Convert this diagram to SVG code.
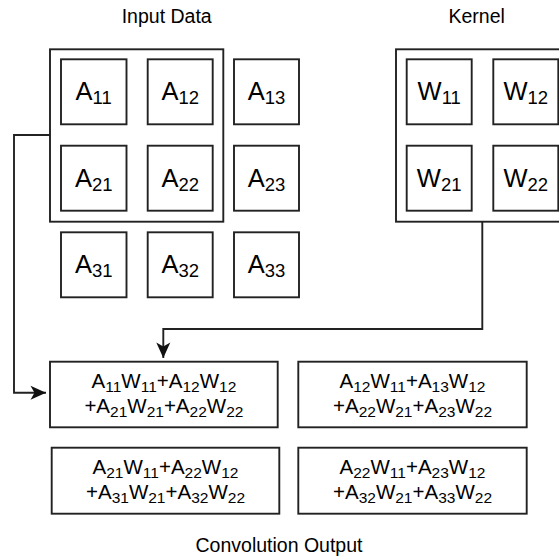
<svg xmlns="http://www.w3.org/2000/svg" width="559" height="556" viewBox="0 0 559 556">
<style>
text{font-family:"Liberation Sans",Arial,Helvetica,sans-serif;fill:#000;text-anchor:middle}
.t{font-size:19.5px}
.c rect{fill:#fff;stroke:#222;stroke-width:1.9}
.g{fill:none;stroke:#222;stroke-width:1.9}
.l{font-size:25.5px}
.l .s{font-size:18.5px}
.f{font-size:20.5px}
.f .s{font-size:15.5px}
.e{fill:none;stroke:#222;stroke-width:1.9}
</style>
<defs>
<marker id="arr" markerWidth="18" markerHeight="16" refX="16" refY="8" orient="auto" markerUnits="userSpaceOnUse">
<path d="M0.5,1 L16,8 L0.5,15 L4.5,8 Z" fill="#111"/>
</marker>
</defs>
<rect width="559" height="556" fill="#fff"/>
<text class="t" x="166.7" y="22.7">Input Data</text>
<text class="t" x="476.7" y="22.7">Kernel</text>
<text class="t" x="279" y="551.5">Convolution Output</text>

<g id="input-window"><rect class="g" x="50" y="49.3" width="173.3" height="172.4"/></g>
<g id="kernel-window"><rect class="g" x="396" y="49.3" width="175" height="172.4"/></g>

<g id="A11" class="c"><rect x="61" y="59.3" width="65.5" height="65"/><text class="l" x="93.7" y="100.3">A<tspan class="s" dy="4">11</tspan></text></g>
<g id="A12" class="c"><rect x="147.7" y="59.3" width="65" height="65"/><text class="l" x="180.2" y="100.3">A<tspan class="s" dy="4">12</tspan></text></g>
<g id="A13" class="c"><rect x="234" y="59.3" width="65" height="65"/><text class="l" x="266.5" y="100.3">A<tspan class="s" dy="4">13</tspan></text></g>
<g id="A21" class="c"><rect x="61" y="145.7" width="65.5" height="65"/><text class="l" x="93.7" y="186.7">A<tspan class="s" dy="4">21</tspan></text></g>
<g id="A22" class="c"><rect x="147.7" y="145.7" width="65" height="65"/><text class="l" x="180.2" y="186.7">A<tspan class="s" dy="4">22</tspan></text></g>
<g id="A23" class="c"><rect x="234" y="145.7" width="65" height="65"/><text class="l" x="266.5" y="186.7">A<tspan class="s" dy="4">23</tspan></text></g>
<g id="A31" class="c"><rect x="61" y="232.3" width="65.5" height="65"/><text class="l" x="93.7" y="273.3">A<tspan class="s" dy="4">31</tspan></text></g>
<g id="A32" class="c"><rect x="147.7" y="232.3" width="65" height="65"/><text class="l" x="180.2" y="273.3">A<tspan class="s" dy="4">32</tspan></text></g>
<g id="A33" class="c"><rect x="234" y="232.3" width="65" height="65"/><text class="l" x="266.5" y="273.3">A<tspan class="s" dy="4">33</tspan></text></g>

<g id="W11" class="c"><rect x="406.7" y="59.3" width="65" height="65"/><text class="l" x="439.2" y="100.3">W<tspan class="s" dy="4">11</tspan></text></g>
<g id="W12" class="c"><rect x="493.3" y="59.3" width="65" height="65"/><text class="l" x="525.8" y="100.3">W<tspan class="s" dy="4">12</tspan></text></g>
<g id="W21" class="c"><rect x="406.7" y="145.7" width="65" height="65"/><text class="l" x="439.2" y="186.7">W<tspan class="s" dy="4">21</tspan></text></g>
<g id="W22" class="c"><rect x="493.3" y="145.7" width="65" height="65"/><text class="l" x="525.8" y="186.7">W<tspan class="s" dy="4">22</tspan></text></g>

<g id="O11" class="c"><rect x="50" y="361.7" width="227.7" height="65.6"/>
<text class="f" x="163.9" y="388">A<tspan class="s" dy="3.5">11</tspan><tspan dy="-3.5">W</tspan><tspan class="s" dy="3.5">11</tspan><tspan dy="-3.5">+A</tspan><tspan class="s" dy="3.5">12</tspan><tspan dy="-3.5">W</tspan><tspan class="s" dy="3.5">12</tspan></text>
<text class="f" x="163.9" y="413">+A<tspan class="s" dy="3.5">21</tspan><tspan dy="-3.5">W</tspan><tspan class="s" dy="3.5">21</tspan><tspan dy="-3.5">+A</tspan><tspan class="s" dy="3.5">22</tspan><tspan dy="-3.5">W</tspan><tspan class="s" dy="3.5">22</tspan></text></g>
<g id="O12" class="c"><rect x="298.3" y="361.7" width="228.4" height="65.6"/>
<text class="f" x="412.5" y="388">A<tspan class="s" dy="3.5">12</tspan><tspan dy="-3.5">W</tspan><tspan class="s" dy="3.5">11</tspan><tspan dy="-3.5">+A</tspan><tspan class="s" dy="3.5">13</tspan><tspan dy="-3.5">W</tspan><tspan class="s" dy="3.5">12</tspan></text>
<text class="f" x="412.5" y="413">+A<tspan class="s" dy="3.5">22</tspan><tspan dy="-3.5">W</tspan><tspan class="s" dy="3.5">21</tspan><tspan dy="-3.5">+A</tspan><tspan class="s" dy="3.5">23</tspan><tspan dy="-3.5">W</tspan><tspan class="s" dy="3.5">22</tspan></text></g>
<g id="O21" class="c"><rect x="51.7" y="447.7" width="227.6" height="66"/>
<text class="f" x="165.5" y="474.3">A<tspan class="s" dy="3.5">21</tspan><tspan dy="-3.5">W</tspan><tspan class="s" dy="3.5">11</tspan><tspan dy="-3.5">+A</tspan><tspan class="s" dy="3.5">22</tspan><tspan dy="-3.5">W</tspan><tspan class="s" dy="3.5">12</tspan></text>
<text class="f" x="165.5" y="499.3">+A<tspan class="s" dy="3.5">31</tspan><tspan dy="-3.5">W</tspan><tspan class="s" dy="3.5">21</tspan><tspan dy="-3.5">+A</tspan><tspan class="s" dy="3.5">32</tspan><tspan dy="-3.5">W</tspan><tspan class="s" dy="3.5">22</tspan></text></g>
<g id="O22" class="c"><rect x="298.3" y="447.7" width="228.4" height="66"/>
<text class="f" x="412.5" y="474.3">A<tspan class="s" dy="3.5">22</tspan><tspan dy="-3.5">W</tspan><tspan class="s" dy="3.5">11</tspan><tspan dy="-3.5">+A</tspan><tspan class="s" dy="3.5">23</tspan><tspan dy="-3.5">W</tspan><tspan class="s" dy="3.5">12</tspan></text>
<text class="f" x="412.5" y="499.3">+A<tspan class="s" dy="3.5">32</tspan><tspan dy="-3.5">W</tspan><tspan class="s" dy="3.5">21</tspan><tspan dy="-3.5">+A</tspan><tspan class="s" dy="3.5">33</tspan><tspan dy="-3.5">W</tspan><tspan class="s" dy="3.5">22</tspan></text></g>

<g id="connectors">
<path class="e" d="M50,135 H14 V392.7 H46" marker-end="url(#arr)"/>
<path class="e" d="M482.3,221.7 V329 H163.3 V358" marker-end="url(#arr)"/>
</g>
</svg>
